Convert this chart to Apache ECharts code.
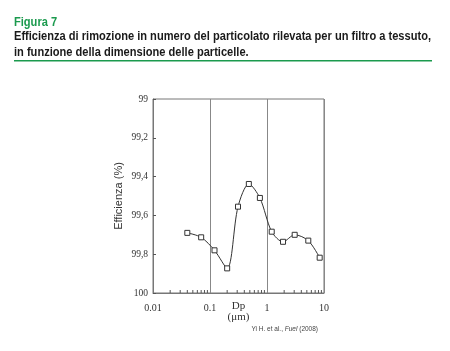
<!DOCTYPE html>
<html>
<head>
<meta charset="utf-8">
<script src="https://cdn.jsdelivr.net/npm/echarts@6/dist/echarts.min.js"></script>
<style>
  html, body { margin: 0; padding: 0; background: #fff; }
  #chart { width: 450px; height: 351px; }
</style>
</head>
<body>
<div id="chart"></div>
<script>
// particle diameter Dp (um) and removal efficiency (%)
var dp = [0.04, 0.07, 0.12, 0.2, 0.31, 0.48, 0.75, 1.21, 1.91, 3.06, 5.3, 8.4];
var efficiency = [99.69, 99.713, 99.78, 99.873, 99.555, 99.438, 99.51, 99.684, 99.736, 99.70, 99.73, 99.818];
var xTickLabels = ["0.01", "0.1", "1", "10"];
var minorTicks = [0.02, 0.03, 0.04, 0.05, 0.06, 0.07, 0.08, 0.09,
                  0.2, 0.3, 0.4, 0.5, 0.6, 0.7, 0.8, 0.9,
                  2, 3, 4, 5, 6, 7, 8, 9];

var titleLines = [
  "Efficienza di rimozione in numero del particolato rilevata per un filtro a tessuto,",
  "in funzione della dimensione delle particelle."
];

var green = "#1b9a4e";
var titleFont = "bold 12px 'Liberation Sans'";

// the original uses a narrow font, squeeze the title to the same width
var ctx = document.createElement("canvas").getContext("2d");
ctx.font = titleFont;
var squeeze = 417 / ctx.measureText(titleLines[0]).width;

var chart = echarts.init(document.getElementById("chart"));

chart.setOption({
  animation: false,
  backgroundColor: "#fff",
  grid: { left: 153, right: 126, top: 99, bottom: 58, show: true, borderColor: "#777", borderWidth: 1 },
  xAxis: {
    type: "log",
    logBase: 10,
    min: 0.01,
    max: 10,
    axisLine: { lineStyle: { color: "#777" } },
    axisTick: { show: false },
    splitLine: { show: true, lineStyle: { color: "#888", width: 1 } },
    axisLabel: {
      fontFamily: "Liberation Serif", fontSize: 10, color: "#333", margin: 10,
      formatter: function (v) {
        var i = Math.round(Math.log10(v)) + 2;
        return xTickLabels[i] || "";
      }
    }
  },
  yAxis: {
    type: "value",
    inverse: true,
    min: 99,
    max: 100,
    interval: 0.2,
    name: "Efficienza (%)",
    nameLocation: "middle",
    nameGap: 29,
    nameTextStyle: { fontFamily: "Liberation Sans", fontSize: 11, color: "#333" },
    axisLine: { show: true, lineStyle: { color: "#777" } },
    axisTick: { show: true, inside: true, length: 3, lineStyle: { color: "#555" } },
    splitLine: { show: false },
    axisLabel: {
      fontFamily: "Liberation Serif", fontSize: 9.5, color: "#333", margin: 5,
      formatter: function (v) {
        if (Math.abs(v - 99) < 1e-6) return "99";
        if (Math.abs(v - 100) < 1e-6) return "100";
        return v.toFixed(1).replace(".", ",");
      }
    }
  },
  series: [
    {
      type: "line",
      data: dp.map(function (d, i) { return [d, efficiency[i]]; }),
      smooth: 0.3,
      symbol: "rect",
      symbolSize: 5,
      lineStyle: { color: "#333", width: 1 },
      itemStyle: { color: "#fff", borderColor: "#333", borderWidth: 1 },
      z: 5
    },
    {
      type: "custom",
      data: minorTicks.map(function (v) { return [v, 100]; }),
      renderItem: function (params, api) {
        var p = api.coord([api.value(0), api.value(1)]);
        return {
          type: "line",
          shape: { x1: p[0], y1: p[1], x2: p[0], y2: p[1] - 3 },
          style: { stroke: "#555", lineWidth: 1 }
        };
      },
      z: 3
    }
  ],
  graphic: [
    {
      type: "text", x: 14, y: 17, scaleX: squeeze,
      style: { text: "Figura 7", fill: green, font: titleFont }
    },
    {
      type: "text", x: 14, y: 29, scaleX: squeeze,
      style: { text: titleLines.join("\n"), fill: "#1a1a1a", lineHeight: 16, font: titleFont }
    },
    {
      type: "rect", shape: { x: 14, y: 60, width: 418, height: 1.6 },
      style: { fill: green }
    },
    {
      type: "text", x: 238.5, y: 301,
      style: { text: "Dp", font: "11px 'Liberation Serif'", fill: "#333", align: "center" }
    },
    {
      type: "text", x: 238.5, y: 312,
      style: { text: "(\u03bcm)", font: "11px 'Liberation Serif'", fill: "#333", align: "center" }
    },
    {
      type: "text", right: 132, top: 326,
      style: {
        text: "{a|Yi H. et al., }{b|Fuel}{a| (2008)}",
        rich: {
          a: { fontFamily: "Liberation Sans", fontSize: 6.5, fill: "#444" },
          b: { fontFamily: "Liberation Sans", fontSize: 6.5, fontStyle: "italic", fill: "#444" }
        }
      }
    }
  ]
});
</script>
</body>
</html>
